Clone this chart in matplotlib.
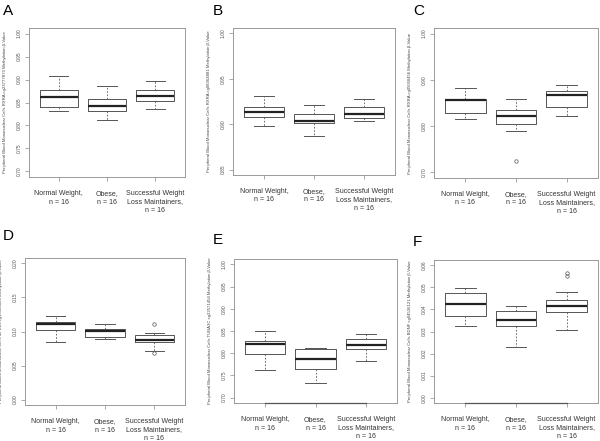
import matplotlib
matplotlib.use("Agg")
import matplotlib.pyplot as plt
import matplotlib.transforms as mtransforms

plt.rcParams['font.family'] = ['Liberation Sans', 'DejaVu Sans']

groups = ["Normal Weight,\nn = 16", "Obese,\nn = 16", "Successful Weight\nLoss Maintainers,\nn = 16"]

# each group: (whislo, q1, med, q3, whishi, fliers)
panel_A = [(0.831, 0.840, 0.862, 0.877, 0.907, []),
           (0.8125, 0.832, 0.843, 0.858, 0.886, []),
           (0.835, 0.854, 0.865, 0.877, 0.896, [])]
panel_B = [(0.8985, 0.908, 0.913, 0.919, 0.931, []),
           (0.887, 0.9015, 0.9037, 0.9114, 0.9213, []),
           (0.903, 0.907, 0.911, 0.919, 0.9276, [])]
panel_C = [(0.816, 0.829, 0.856, 0.858, 0.883, []),
           (0.7885, 0.804, 0.821, 0.834, 0.858, [0.724]),
           (0.823, 0.842, 0.868, 0.876, 0.888, [])]
panel_D = [(0.085, 0.1017, 0.1114, 0.1143, 0.1225, []),
           (0.0886, 0.092, 0.1012, 0.1036, 0.1114, []),
           (0.071, 0.0852, 0.0872, 0.0949, 0.0983, [0.1104, 0.069])]
panel_E = [(0.762, 0.7975, 0.8213, 0.828, 0.850, []),
           (0.732, 0.7648, 0.788, 0.8094, 0.8117, []),
           (0.7834, 0.8087, 0.819, 0.8318, 0.8437, [])]
panel_F = [(0.0323, 0.037, 0.0423, 0.0475, 0.0497, []),
           (0.0231, 0.0324, 0.0352, 0.0394, 0.0416, []),
           (0.0305, 0.0388, 0.0414, 0.0444, 0.0479, [0.0563, 0.0553])]

yticks_A = [0.70, 0.75, 0.80, 0.85, 0.90, 0.95, 1.00]
yticks_B = [0.85, 0.90, 0.95, 1.00]
yticks_C = [0.70, 0.80, 0.90, 1.00]
yticks_D = [0.00, 0.05, 0.10, 0.15, 0.20]
yticks_E = [0.70, 0.75, 0.80, 0.85, 0.90, 0.95, 1.00]
yticks_F = [0.00, 0.01, 0.02, 0.03, 0.04, 0.05, 0.06]

ylabels = [
    "Peripheral Blood Mononuclear Cells RXRA cg23777873 Methylation \u03b2-Value",
    "Peripheral Blood Mononuclear Cells RXRA cg08364881 Methylation \u03b2-Value",
    "Peripheral Blood Mononuclear Cells RXRA cg05050456 Methylation \u03b2-Value",
    "Peripheral Blood Mononuclear Cells MPZL3 cg19906886 Methylation \u03b2-Value",
    "Peripheral Blood Mononuclear Cells TUBA3C cg22571454 Methylation \u03b2-Value",
    "Peripheral Blood Mononuclear Cells BDNF cg04536121 Methylation \u03b2-Value",
]
letters = ["A", "B", "C", "D", "E", "F"]
panels = [panel_A, panel_B, panel_C, panel_D, panel_E, panel_F]
ticks = [yticks_A, yticks_B, yticks_C, yticks_D, yticks_E, yticks_F]
axis_line = [False, False, False, False, True, True]

W, H = 600, 441
# pixel boxes: left, right, top, bottom
boxes = [(29, 185, 28, 177), (233, 395, 28, 175), (434, 598, 28, 178),
         (25, 185, 258, 405), (234, 397, 259, 403), (434, 598, 260, 403)]
letter_pos = [(3, 4), (213, 4), (413, 4), (3, 229), (213, 233), (413, 235)]

fig = plt.figure(figsize=(6.0, 4.41), dpi=100)
frame_col = "#9a9a9a"
box_col = "#555555"
px = 72.0 / 100.0  # points per pixel

for i in range(6):
    l, r, t, b = boxes[i]
    ax = fig.add_axes([l / W, 1 - b / H, (r - l) / W, (b - t) / H])
    stats = []
    for (lo, q1, med, q3, hi, fl) in panels[i]:
        stats.append(dict(whislo=lo, q1=q1, med=med, q3=q3, whishi=hi, fliers=fl))
    ax.bxp(stats, positions=[1, 2, 3], widths=0.8, showfliers=True,
           boxprops=dict(color=box_col, linewidth=0.7),
           medianprops=dict(color="#222222", linewidth=1.6),
           whiskerprops=dict(color=box_col, linewidth=0.6, linestyle=(0, (2, 2))),
           capprops=dict(color=box_col, linewidth=0.7),
           flierprops=dict(marker="o", markersize=2.5, markerfacecolor="none",
                           markeredgecolor=box_col, markeredgewidth=0.5))
    yt = ticks[i]
    lo_, hi_ = yt[0], yt[-1]
    pad = (hi_ - lo_) * 0.04
    ax.set_ylim(lo_ - pad, hi_ + pad)
    ax.set_xlim(0.38, 3.62)
    ax.set_yticks(yt)
    ax.set_yticklabels(["%.2f" % v for v in yt], rotation=90, va="center",
                       fontsize=3.5, color="#555555")
    ax.set_xticks([1, 2, 3])
    ax.set_xticklabels([])
    ax.tick_params(axis="x", length=3, color=frame_col, width=0.6)
    ax.tick_params(axis="y", length=3, pad=2.5, color=frame_col, width=0.6)
    for s in ax.spines.values():
        s.set_color(frame_col)
        s.set_linewidth(0.7)
    if axis_line[i]:
        trans = mtransforms.blended_transform_factory(ax.transData, ax.transAxes)
        ax.plot([1, 3], [0, 0], transform=trans, color="#555555", lw=0.9,
                clip_on=False, zorder=5)
    # group labels, line by line so all start at the same height
    for gx, g in enumerate(groups, start=1):
        for k, line in enumerate(g.split("\n")):
            ax.annotate(line, xy=(gx, 0), xycoords=("data", "axes fraction"),
                        xytext=(0, -(18 + 8.5 * k) * px), textcoords="offset points",
                        ha="center", va="baseline", fontsize=5, color="#333333")
    ax.set_ylabel(ylabels[i], fontsize=3.1, color="#444444")
    ax.yaxis.set_label_coords(-22.0 / (r - l), 0.5)
    lx, ly = letter_pos[i]
    fig.text(lx / W, 1 - ly / H, letters[i], fontsize=11, va="top", ha="left")

fig.savefig("out.png", dpi=100)
